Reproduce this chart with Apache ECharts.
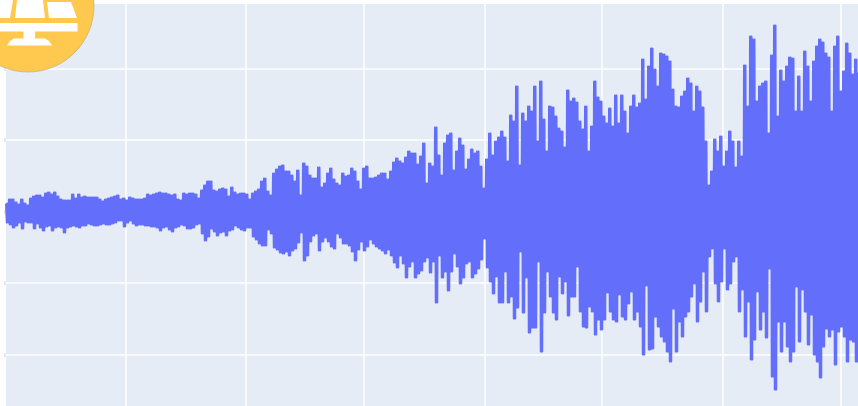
<!DOCTYPE html>
<html>
<head>
<meta charset="utf-8">
<style>
html, body { margin: 0; padding: 0; background: #fff; }
#main { width: 858px; height: 406px; }
</style>
<script src="https://cdn.jsdelivr.net/npm/echarts@6/dist/echarts.min.js"></script>
</head>
<body>
<div id="main"></div>
<script>
// envelope of the waveform, one column every 3 units
const upperPeaks = [
  8,12,12,9,7,12,8,6,13,15,16,16,14,18,19,17,19,15,12,11,
  11,11,17,13,17,14,15,14,14,14,14,12,10,12,13,14,15,16,12,13,
  11,14,13,12,12,12,13,17,16,17,18,19,18,18,17,16,17,12,11,18,
  17,18,18,17,13,21,26,30,30,21,20,22,23,22,15,24,19,17,18,18,
  17,12,18,20,22,30,33,20,16,38,42,45,46,40,40,
  36,30,41,16,48,45,36,33,33,44,24,28,38,43,32,28,26,38,35,36,
  43,40,30,22,43,45,33,33,34,36,38,38,32,40,49,53,50,48,54,60,
  58,58,47,55,68,28,48,45,84,56,36,68,76,78,41,60,73,66,42,52,
  62,58,60,45,23,52,78,56,70,74,80,74,50,96,90,125,46,98,90,105,
  100,125,70,130,92,60,105,104,95,83,80,64,121,110,
  113,109,90,82,105,60,85,130,114,110,95,88,103,85,116,88,116,100,78,105,
  116,104,108,152,112,145,163,142,125,158,157,155,150,122,105,104,115,120,133,128,
  100,125,120,104,70,26,40,72,60,75,45,60,80,70,44,70,55,146,105,175,
  172,110,125,128,130,78,156,186,95,141,130,145,154,153,100,135,100,160,145,110,
  150,165,172,169,158,154,100,165,175,120,140,168,158,137,152,138
];
const lowerPeaks = [
  -11,-13,-16,-14,-11,-17,-10,-11,-11,-17,-12,-16,-19,-15,-14,-19,-16,-15,-16,-21,
  -16,-15,-14,-15,-16,-14,-14,-12,-13,-14,-14,-13,-12,-13,-13,-12,-11,-9,-9,-15,
  -11,-9,-12,-14,-13,-13,-14,-14,-15,-15,-16,-19,-16,-15,-18,-20,-16,-15,-13,-14,
  -17,-17,-16,-13,-12,-22,-29,-25,-17,-20,-24,-21,-20,-24,-19,-18,-14,-16,-18,-19,
  -16,-16,-25,-28,-32,-34,-34,-18,-22,-36,-38,-41,-42,-40,-44,
  -39,-37,-31,-21,-49,-44,-30,-24,-22,-39,-30,-26,-30,-35,-37,-22,-26,-32,-32,-34,
  -40,-49,-38,-30,-39,-35,-28,-32,-35,-37,-39,-42,-38,-44,-51,-56,-44,-52,-66,-55,
  -50,-66,-62,-59,-50,-46,-61,-50,-91,-44,-66,-60,-79,-60,-42,-55,-72,-66,-52,-50,
  -66,-62,-57,-48,-27,-56,-70,-82,-65,-91,-91,-60,-91,-85,-107,-96,-40,-101,-66,-121,
  -116,-116,-50,-140,-101,-60,-85,-101,-108,-65,-82,-70,-104,-85,
  -85,-55,-100,-115,-116,-95,-100,-123,-108,-118,-108,-81,-100,-108,-110,-83,-105,-108,-92,-80,
  -108,-100,-115,-143,-74,-138,-137,-105,-115,-125,-130,-140,-150,-97,-140,-110,-125,-105,-100,-85,
  -72,-110,-90,-60,-100,-45,-37,-72,-90,-70,-37,-78,-72,-50,-45,-100,-78,-125,-90,-148,
  -128,-80,-118,-100,-126,-57,-165,-178,-110,-140,-110,-135,-150,-140,-75,-130,-78,-100,-133,-103,
  -143,-150,-166,-135,-117,-125,-118,-153,-120,-115,-125,-150,-128,-130,-150,-130
];
const xTicks = [119.5, 240, 358, 479, 596, 717, 835];
const yTicks = [-142.9, -71.45, 0, 71.45, 142.9];

const columnStep = 3;

// every column swings between its high and its low twice so the body stays solid
let trace = [];
upperPeaks.forEach((high, i) => {
    const left = i * columnStep;
    trace.push([left, high]);
    trace.push([left + columnStep / 4, lowerPeaks[i]]);
    trace.push([left + columnStep / 2, high]);
    trace.push([left + columnStep * 3 / 4, lowerPeaks[i]]);
});

const gold = '#FFC84F';

const chart = echarts.init(document.getElementById('main'));
chart.setOption({
    animation: false,
    backgroundColor: '#fff',
    grid: { left: 6, right: 0, top: 4, bottom: 0, backgroundColor: '#E5ECF6', show: true, borderWidth: 0 },
    xAxis: {
        type: 'value',
        min: 0,
        max: 852,
        axisLine: { show: false },
        axisLabel: { show: false },
        axisTick: { show: false, customValues: xTicks },
        splitLine: { show: true, lineStyle: { color: '#fff', width: 1.5 } }
    },
    yAxis: {
        type: 'value',
        min: -194.6,
        max: 207.4,
        offset: 1,
        axisLine: { show: false },
        axisLabel: { show: false },
        axisTick: { show: true, length: 2, customValues: yTicks, lineStyle: { color: '#e8e8e8', width: 4 } },
        splitLine: { show: true, lineStyle: { color: '#fff', width: 1.5 } }
    },
    series: [{
        type: 'line',
        data: trace,
        showSymbol: false,
        sampling: false,
        lineStyle: { color: '#636EFA', width: 2, join: 'round' },
        clip: true
    }],
    graphic: [
        { type: 'circle', shape: { cx: 28, cy: 6, r: 66 }, style: { fill: gold, stroke: '#b9a77a', lineWidth: 0.6 }, z: 10 },
        // solar panel logo
        { type: 'polygon', shape: { points: [[0, 0], [13, 0], [10, 18], [0, 18]] }, style: { fill: '#fff' }, z: 11 },
        { type: 'polygon', shape: { points: [[17, 0], [43, 0], [45, 18], [15, 18]] }, style: { fill: '#fff' }, z: 11 },
        { type: 'polygon', shape: { points: [[47, 2], [71, 2], [77, 18], [49, 18]] }, style: { fill: '#fff' }, z: 11 },
        { type: 'rect', shape: { x: 0, y: 23, width: 77.5, height: 8.5 }, style: { fill: '#fff' }, z: 11 },
        { type: 'rect', shape: { x: 23.5, y: 31, width: 11.5, height: 8 }, style: { fill: '#fff' }, z: 11 },
        { type: 'polygon', shape: { points: [[7, 45.5], [10, 41], [14, 38.5], [45, 38.5], [49, 41], [52, 45.5]] }, style: { fill: '#fff' }, z: 11 }
    ]
});
</script>
</body>
</html>
